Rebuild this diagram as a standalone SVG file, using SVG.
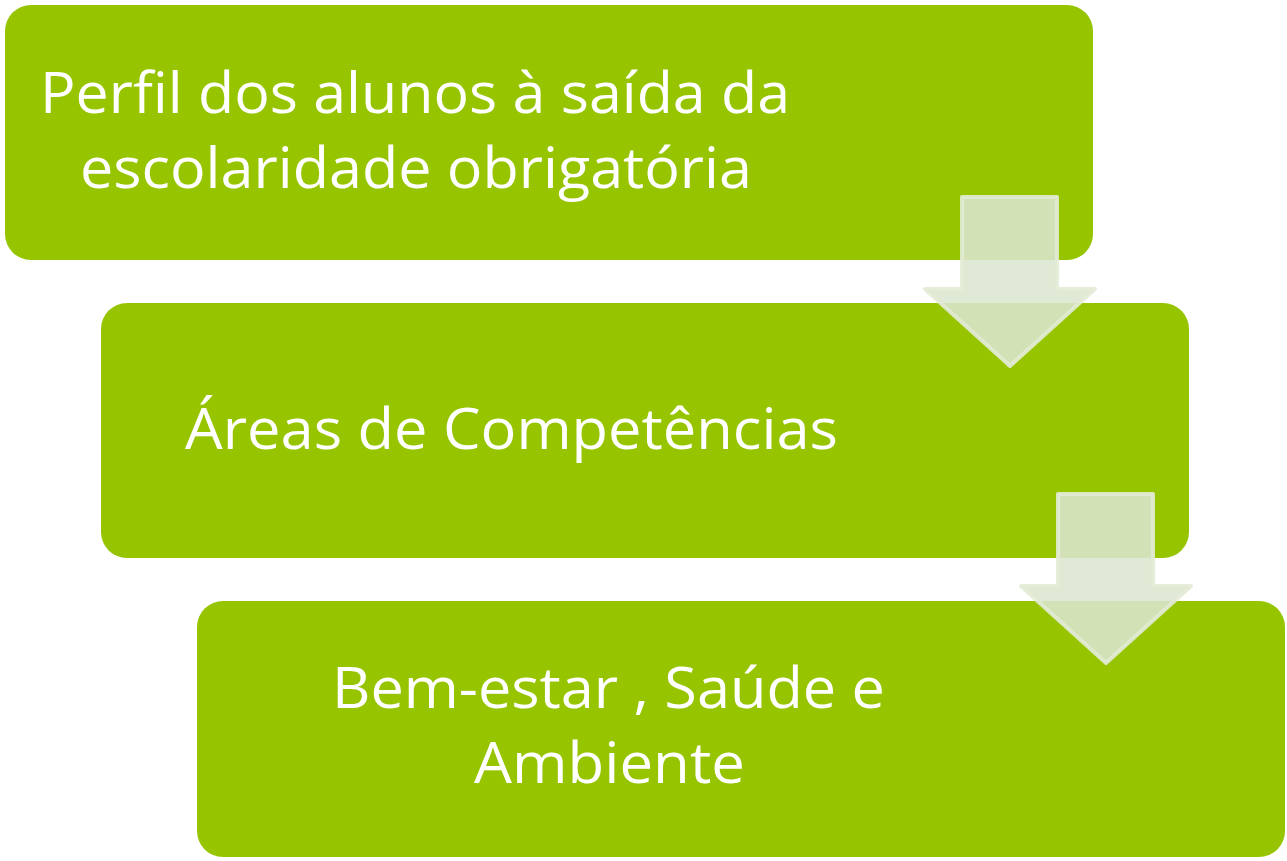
<svg xmlns="http://www.w3.org/2000/svg" width="1287" height="861" viewBox="0 0 1287 861">
<style>
.box{fill:#96c500;}
.t{fill:#ffffff;font-family:"Open Sans","Noto Sans","Liberation Sans",sans-serif;font-size:56px;}
.arr{fill:rgb(220,230,207);fill-opacity:0.88;stroke:#e3ebd6;stroke-opacity:0.9;stroke-width:4;stroke-linejoin:round;}
</style>
<rect width="1287" height="861" fill="#ffffff"/>
<g id="node1">
<rect class="box" x="5" y="5" width="1088" height="255" rx="26"/>
<text class="t" x="40" y="113" textLength="750" lengthAdjust="spacingAndGlyphs">Perfil dos alunos à saída da</text>
<text class="t" x="80" y="188" textLength="672" lengthAdjust="spacingAndGlyphs">escolaridade obrigatória</text>
</g>
<g id="node2">
<rect class="box" x="101" y="303" width="1088" height="255" rx="26"/>
<text class="t" x="185" y="449" textLength="653" lengthAdjust="spacingAndGlyphs">Áreas de Competências</text>
</g>
<g id="node3">
<rect class="box" x="197" y="601" width="1088" height="256" rx="26"/>
<text class="t" x="332" y="708" textLength="553" lengthAdjust="spacingAndGlyphs">Bem-estar , Saúde e</text>
<text class="t" x="474" y="783" textLength="271" lengthAdjust="spacingAndGlyphs">Ambiente</text>
</g>
<g id="connectors">
<polygon class="arr" points="962,197 1057,197 1057,289 1095,289 1010,366 925,289 962,289"/>
<polygon class="arr" points="1058,494 1153,494 1153,586 1191,586 1106,663 1021,586 1058,586"/>
</g>
</svg>
